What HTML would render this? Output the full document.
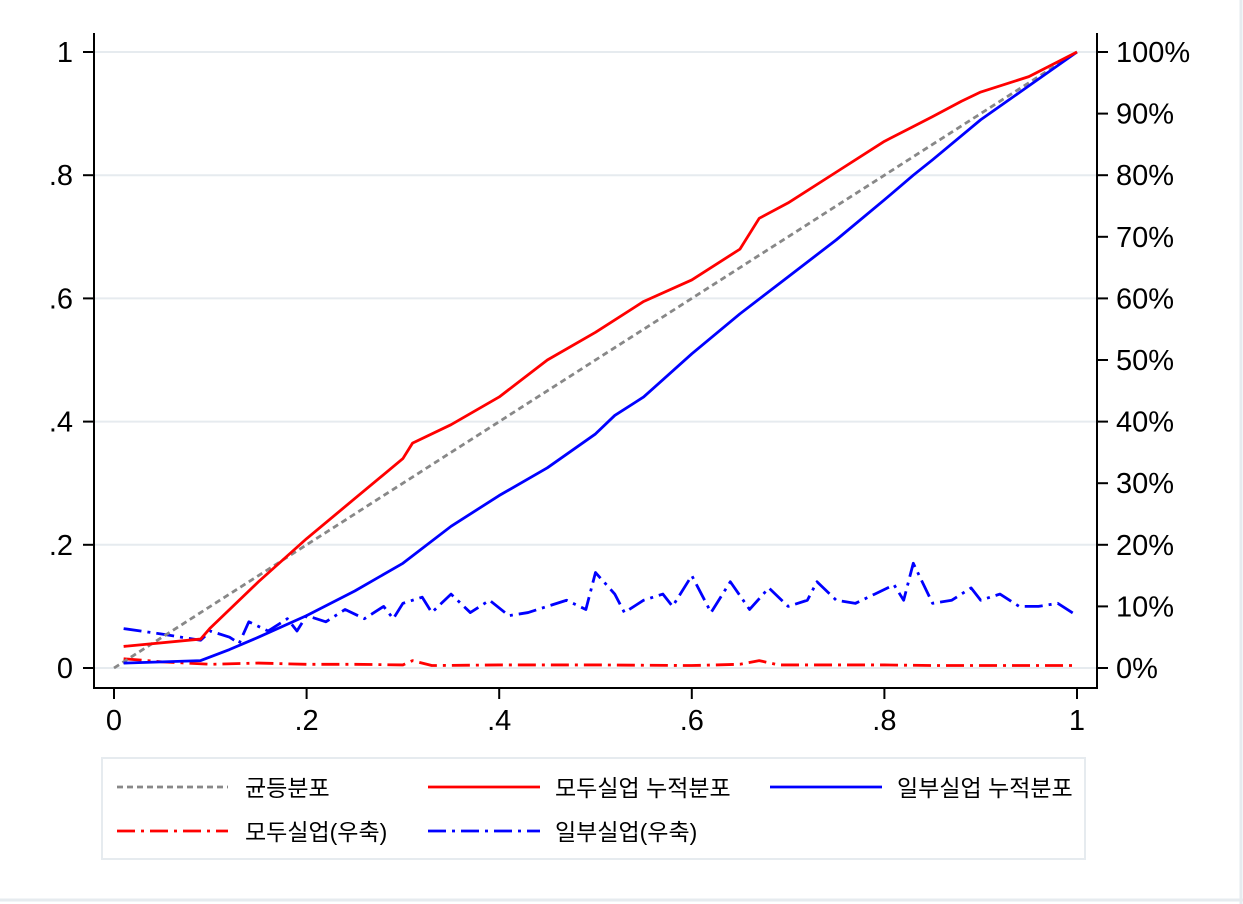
<!DOCTYPE html>
<html><head><meta charset="utf-8">
<style>
html,body{margin:0;padding:0;background:#fff;}
svg{display:block;}
text{font-family:"Liberation Sans","Noto Sans CJK KR",sans-serif;fill:#000;}
</style></head>
<body>
<svg id="chart" width="1243" height="904" xmlns="http://www.w3.org/2000/svg">
<rect x="0" y="0" width="1243" height="904" fill="#fff"/>
<line x1="0" y1="900" x2="1243" y2="900" stroke="#e6ebef" stroke-width="3"/>
<line x1="1241" y1="0" x2="1241" y2="904" stroke="#e6ebef" stroke-width="3"/>
<g id="grid"></g>
<g id="series"></g>
<g id="axes"></g>
<g id="legend">
<rect x="102" y="758" width="983" height="101" fill="#fff" stroke="#e6ebef" stroke-width="2"/>
<g><line x1="117" y1="787" x2="228" y2="787" stroke="#888" stroke-width="2.8" stroke-dasharray="6,4"/><text x="245" y="796" font-size="23">균등분포</text></g>
<g><line x1="428" y1="787" x2="540" y2="787" stroke="#ff0000" stroke-width="2.8"/><text x="555" y="796" font-size="23">모두실업 누적분포</text></g>
<g><line x1="770" y1="787" x2="882" y2="787" stroke="#0000ff" stroke-width="2.8"/><text x="897" y="796" font-size="23">일부실업 누적분포</text></g>
<g><line x1="117" y1="831" x2="228" y2="831" stroke="#ff0000" stroke-width="2.8" stroke-dasharray="18,6,3,6"/><text x="245" y="840" font-size="23">모두실업(우축)</text></g>
<g><line x1="428" y1="831" x2="540" y2="831" stroke="#0000ff" stroke-width="2.8" stroke-dasharray="18,6,3,6"/><text x="555" y="840" font-size="23">일부실업(우축)</text></g>
</g>
</svg>
<script>
const xTicks=[0,0.2,0.4,0.6,0.8,1];
const xTickLabels=["0",".2",".4",".6",".8","1"];
const yTicks=[0,0.2,0.4,0.6,0.8,1];
const yTickLabels=["0",".2",".4",".6",".8","1"];
const y2Ticks=[0,10,20,30,40,50,60,70,80,90,100];
const y2TickLabels=["0%","10%","20%","30%","40%","50%","60%","70%","80%","90%","100%"];
const uniformX=[0,1];
const uniformY=[0,1];
const allCumX=[0.01,0.09,0.1,0.15,0.2,0.25,0.3,0.31,0.35,0.4,0.45,0.5,0.55,0.6,0.65,0.67,0.7,0.75,0.8,0.85,0.88,0.9,0.95,1];
const allCumY=[0.035,0.047,0.065,0.14,0.21,0.275,0.34,0.365,0.395,0.44,0.50,0.545,0.595,0.63,0.68,0.73,0.755,0.805,0.855,0.895,0.92,0.935,0.96,1];
const someCumX=[0.01,0.09,0.12,0.15,0.2,0.25,0.3,0.35,0.4,0.45,0.5,0.52,0.55,0.6,0.65,0.7,0.75,0.8,0.83,0.85,0.9,0.95,1];
const someCumY=[0.008,0.012,0.03,0.05,0.085,0.125,0.17,0.23,0.28,0.325,0.38,0.41,0.44,0.51,0.575,0.635,0.695,0.76,0.8,0.825,0.89,0.945,1];
const someRightX=[0.01,0.05,0.09,0.1,0.12,0.13,0.14,0.16,0.18,0.19,0.2,0.22,0.24,0.26,0.28,0.29,0.3,0.32,0.33,0.35,0.37,0.39,0.41,0.43,0.45,0.47,0.49,0.5,0.52,0.53,0.55,0.57,0.58,0.6,0.62,0.64,0.66,0.68,0.7,0.72,0.73,0.75,0.77,0.79,0.81,0.82,0.83,0.85,0.87,0.89,0.9,0.92,0.94,0.96,0.98,1];
const someRightY=[6.4,5.5,4.5,6,5,4,7.5,6,8,6,8.5,7.5,9.5,8,10,8,10.5,11.5,9,12,9,11,8.5,9,10,11,9.5,15.5,12,9,11,12,10,15,9,14,9.5,13,10,11,14,11,10.5,12,13.5,11,17,10.5,11,13,11,12,10,10,10.5,8.5];
const allRightX=[0.01,0.05,0.1,0.15,0.2,0.25,0.3,0.31,0.33,0.4,0.5,0.6,0.65,0.67,0.69,0.75,0.8,0.85,0.9,0.95,1];
const allRightY=[1.5,1.0,0.6,0.8,0.6,0.6,0.5,1.2,0.4,0.5,0.5,0.4,0.6,1.2,0.5,0.5,0.5,0.4,0.4,0.4,0.4];

const NS="http://www.w3.org/2000/svg";
const X0=114,X1=1077,Y0=668,Y1=52;
const xs=v=>X0+(X1-X0)*v;
const ys=v=>Y0-(Y0-Y1)*v;
const ys2=v=>Y0-(Y0-Y1)*v/100;
function mk(tag,attrs,parent){const e=document.createElementNS(NS,tag);for(const k in attrs)e.setAttribute(k,attrs[k]);parent.appendChild(e);return e;}
const grid=document.getElementById('grid'),series=document.getElementById('series'),axes=document.getElementById('axes');
yTicks.forEach((t,i)=>{
  const g=mk('line',{x1:94,x2:1097,y1:ys(t),y2:ys(t),stroke:'#e6ebef','stroke-width':2},grid);
  
  
  const tk=mk('line',{x1:83,x2:94,y1:ys(t),y2:ys(t),stroke:'#000','stroke-width':2},axes);
  
  
  const lb=mk('text',{x:73,y:ys(t)+10,'font-size':29,'text-anchor':'end'},axes);
  lb.textContent=yTickLabels[i];
  
  
});
y2Ticks.forEach((t,i)=>{
  const tk=mk('line',{x1:1097,x2:1108,y1:ys2(t),y2:ys2(t),stroke:'#000','stroke-width':2},axes);
  
  
  const lb=mk('text',{x:1116,y:ys2(t)+10,'font-size':29},axes);
  lb.textContent=y2TickLabels[i];
  
  
});
xTicks.forEach((t,i)=>{
  const tk=mk('line',{x1:xs(t),x2:xs(t),y1:688,y2:699,stroke:'#000','stroke-width':2},axes);
  
  
  const lb=mk('text',{x:xs(t),y:730,'font-size':29,'text-anchor':'middle'},axes);
  lb.textContent=xTickLabels[i];
  
  
});
const la=mk('line',{x1:94,x2:94,y1:33,y2:689,stroke:'#000','stroke-width':2},axes);


const ba=mk('line',{x1:93,x2:1098,y1:688,y2:688,stroke:'#000','stroke-width':2},axes);


const ra=mk('line',{x1:1097,x2:1097,y1:33,y2:689,stroke:'#000','stroke-width':2},axes);


function line(xa,ya,yf,color,dash,name){
  const p=mk('polyline',{points:xa.map((x,i)=>xs(x)+','+yf(ya[i])).join(' '),fill:'none',stroke:color,'stroke-width':2.8,'stroke-linejoin':'round'},series);
  if(dash)p.setAttribute('stroke-dasharray',dash);
  
  
}
line(allRightX,allRightY,ys2,'#ff0000','18,6,3,6','all-unemployed-right-line');
line(someRightX,someRightY,ys2,'#0000ff','18,6,3,6','some-unemployed-right-line');
line(uniformX,uniformY,ys,'#888','6,4','uniform-line');
line(someCumX,someCumY,ys,'#0000ff',null,'some-unemployed-cum-line');
line(allCumX,allCumY,ys,'#ff0000',null,'all-unemployed-cum-line');
</script>
</body></html>
